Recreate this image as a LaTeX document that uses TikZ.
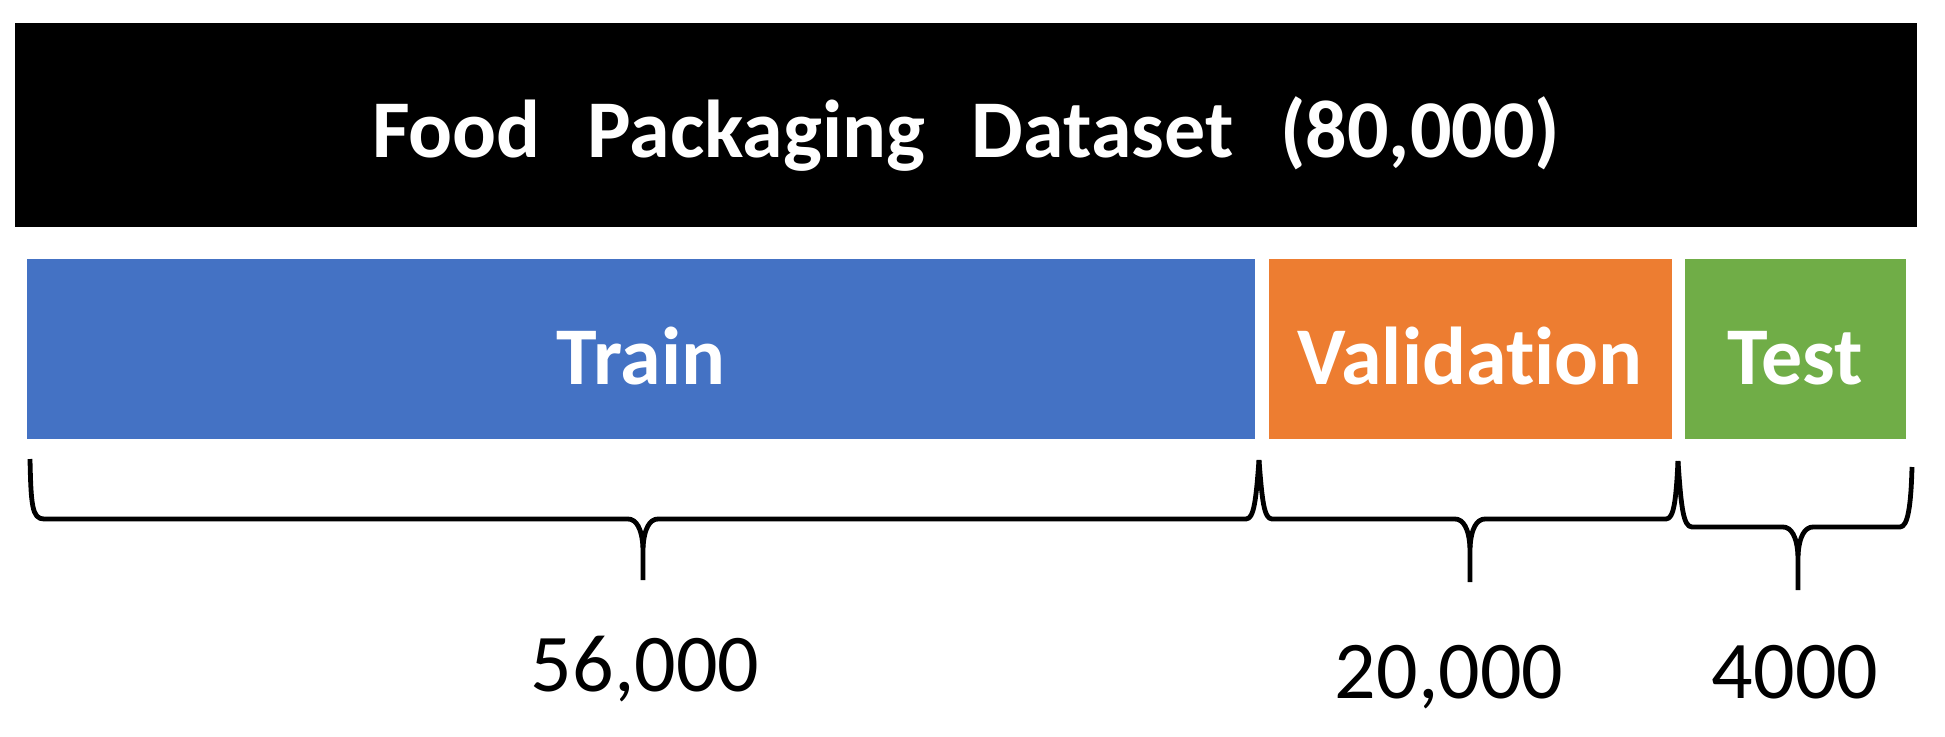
\documentclass[tikz,border=0pt]{standalone}
\usepackage{fontspec}
\setmainfont{Carlito}[Ligatures={NoCommon,NoRare,NoContextual}]
\definecolor{trainblue}{HTML}{4472C4}
\definecolor{valorange}{HTML}{ED7D31}
\definecolor{testgreen}{HTML}{70AD47}
\tikzset{
  bar/.style={rectangle, inner sep=0pt, outer sep=0pt, draw=none, anchor=north west},
  barlabel/.style={text=white, font=\fontsize{41}{49}\selectfont\bfseries, inner sep=0pt, anchor=base},
  numlabel/.style={text=black, font=\fontsize{41}{49}\selectfont, inner sep=0pt, anchor=base},
  bracepath/.style={draw=black, line width=2.4pt, line join=round, line cap=butt},
}
\begin{document}
\begin{tikzpicture}[x=0.5pt,y=-0.5pt]
\useasboundingbox (0,0) rectangle (1945,736);
% dataset bar
\node[bar, fill=black, minimum width=951pt, minimum height=102pt] (data) at (15,23) {};
\node[barlabel] (datatext) at (966,157) {Food\hspace{0.57em}Packaging\hspace{0.57em}Dataset\hspace{0.57em}(80,000)};
% split bars
\node[bar, fill=trainblue, minimum width=614pt, minimum height=90pt] (train) at (27,259) {};
\node[bar, fill=valorange, minimum width=201.5pt, minimum height=90pt] (val) at (1269,259) {};
\node[bar, fill=testgreen, minimum width=110.5pt, minimum height=90pt] (test) at (1685,259) {};
\node[barlabel] (traintext) at (641,384) {Train};
\node[barlabel] (valtext) at (1470,384) {Validation};
\node[barlabel] (testtext) at (1795,384) {Test};
% braces
\coordinate (b0) at (30,459);
\coordinate (b1) at (1259,460);
\coordinate (b2) at (1678,461);
\coordinate (b3) at (1912,467);
% train brace
\draw[bracepath] (b0) .. controls (31,505) and (32,519) .. (44,519)
  -- (628,519) .. controls (636,519) and (642,528) .. (643,548) -- (643,580);
\draw[bracepath] (643,548) .. controls (644,528) and (650,519) .. (658,519)
  -- (1246,519) .. controls (1254,519) and (1256,500) .. (b1);
% validation brace
\draw[bracepath] (b1) .. controls (1262,500) and (1264,519) .. (1272,519)
  -- (1455,519) .. controls (1463,519) and (1469,528) .. (1470,548) -- (1470,582);
\draw[bracepath] (1470,548) .. controls (1471,528) and (1477,519) .. (1485,519)
  -- (1666,519) .. controls (1674,519) and (1676,500) .. (b2);
% test brace
\draw[bracepath] (b2) .. controls (1681,505) and (1683,527) .. (1692,527)
  -- (1783,527) .. controls (1791,527) and (1797,536) .. (1798,556) -- (1798,590);
\draw[bracepath] (1798,556) .. controls (1799,536) and (1805,527) .. (1813,527)
  -- (1900,527) .. controls (1908,527) and (1911,505) .. (b3);
% counts
\node[numlabel] (n1) at (645,691) {56,000};
\node[numlabel] (n2) at (1449,698) {20,000};
\node[numlabel] (n3) at (1795,698) {4000};
\end{tikzpicture}
\end{document}
